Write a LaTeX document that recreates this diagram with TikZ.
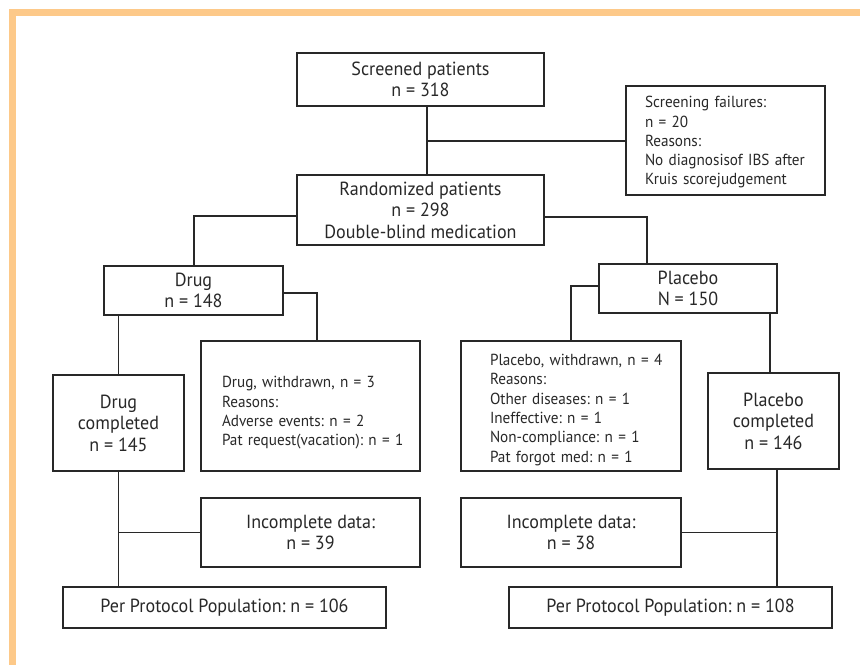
\documentclass[tikz,border=0pt]{standalone}
\usepackage{fontspec}
\setmainfont{PT Sans}[FakeStretch=0.95]
\frenchspacing
\definecolor{frame}{RGB}{253,201,137}
\definecolor{ink}{RGB}{40,40,40}
\newcommand{\lines}[2][0pt]{\raisebox{#1}[\height][\depth]{\begin{tabular}{@{}l@{}}#2\end{tabular}}}
\begin{document}
\begin{tikzpicture}[x=1pt,y=-1pt,
  box/.style={draw=ink, line width=1.1pt, text=ink, inner sep=0pt, align=center,
    font=\fontsize{19}{21.5}\selectfont},
  lbox/.style={draw=ink, line width=1.1pt, text=ink, inner ysep=0pt, align=left,
    font=\fontsize{16}{19.3}\selectfont},
  conn/.style={draw=ink, line width=1.1pt}]
\useasboundingbox (0,0) rectangle (860,665);
\fill[white] (0,0) rectangle (860,665);
\fill[frame] (9,9) rectangle (860,16);
\fill[frame] (9,9) rectangle (16,665);

% boxes
\node[box, minimum width=247, minimum height=53] (scr) at (420.5,79.5) {Screened patients\\n = 318};
\node[lbox, inner xsep=19, text width=161, minimum height=109] (fail) at (725.5,140.5)
  {\lines[-2pt]{Screening failures:\\n = 20\\Reasons:\\No diagnosisof IBS after\\Kruis scorejudgement}};
\node[box, minimum width=247, minimum height=70] (rnd) at (420.5,210) {Randomized patients\\n = 298\\Double-blind medication};
\node[box, minimum width=179, minimum height=49] (drug) at (193.5,290.5) {Drug\\n = 148};
\node[box, minimum width=178, minimum height=49] (plc) at (688,288.5) {Placebo\\N = 150};
\node[box, minimum width=131, minimum height=96] (dc) at (118.5,423) {Drug\\completed\\n = 145};
\node[lbox, inner xsep=21, text width=177, minimum height=130] (dw) at (310.5,406)
  {\lines[-7pt]{Drug, withdrawn, n = 3\\Reasons:\\Adverse events: n = 2\\Pat request(vacation): n = 1}};
\node[lbox, inner xsep=29, text width=162, minimum height=130] (pw) at (571,406)
  {\lines[-4pt]{Placebo, withdrawn, n = 4\\Reasons:\\Other diseases: n = 1\\Ineffective: n = 1\\Non-compliance: n = 1\\Pat forgot med: n = 1}};
\node[box, minimum width=131, minimum height=96] (pc) at (773.5,421) {Placebo\\completed\\n = 146};
\node[box, minimum width=219, minimum height=69] (inc1) at (310.5,532.5) {Incomplete data:\\n = 39};
\node[box, minimum width=220, minimum height=69] (inc2) at (571,532.5) {Incomplete data:\\n = 38};
\node[box, minimum width=323, minimum height=41] (pp1) at (224.5,607.5) {Per Protocol Population: n = 106};
\node[box, minimum width=323, minimum height=41] (pp2) at (670.5,607.5) {Per Protocol Population: n = 108};

% connector helpers
\coordinate (c1) at (427,141);
\coordinate (cL) at (194,216);
\coordinate (cR) at (647,217);
\coordinate (d1) at (317,293);
\coordinate (p1) at (571,286);
\coordinate (p2) at (770,0);
\coordinate (p3) at (777,0);

% connectors
\draw[conn] (scr.south -| c1) -- (rnd.north -| c1);
\draw[conn] (c1) -- (fail.west |- c1);
\draw[conn] (rnd.west |- cL) -| (drug.north -| cL);
\draw[conn] (rnd.east |- cR) -| (plc.north -| cR);
\draw[conn] (drug.east |- d1) -| (dw.north -| d1);
\draw[conn] (drug.south -| dc.north) -- (dc.north);
\draw[conn] (dc.south) -- (pp1.north -| dc.south);
\draw[conn] (inc1.west) -- (inc1.west -| dc.south);
\draw[conn] (plc.west |- p1) -| (pw.north -| p1);
\draw[conn] (plc.south -| p2) -- (pc.north -| p2);
\draw[conn] (pc.south -| p3) -- (pp2.north -| p3);
\draw[conn] (inc2.east) -- (inc2.east -| p3);
\end{tikzpicture}
\end{document}
